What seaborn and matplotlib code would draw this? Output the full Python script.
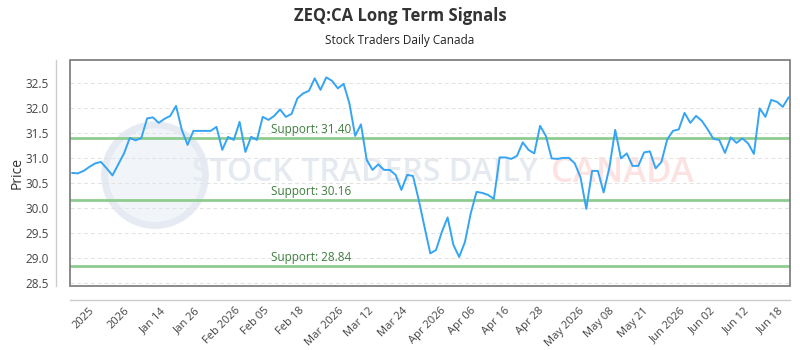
import numpy as np
import pandas as pd
import matplotlib
matplotlib.use("Agg")
import matplotlib.pyplot as plt
import seaborn as sns
from matplotlib.patches import Rectangle, Ellipse

# closing prices, one per trading session
prices = [
    30.71, 30.70, 30.75, 30.83, 30.90, 30.93, 30.80, 30.66, 30.88, 31.10,
    31.41, 31.36, 31.41, 31.80, 31.82, 31.71, 31.79, 31.85, 32.05, 31.57,
    31.27, 31.55, 31.55, 31.55, 31.55, 31.63, 31.17, 31.43, 31.37, 31.73,
    31.13, 31.43, 31.37, 31.83, 31.77, 31.85, 31.98, 31.83, 31.89, 32.20,
    32.30, 32.35, 32.60, 32.37, 32.62, 32.55, 32.40, 32.49, 32.10, 31.45,
    31.68, 30.97, 30.77, 30.88, 30.77, 30.77, 30.67, 30.37, 30.67, 30.65,
    30.17, 29.63, 29.10, 29.17, 29.53, 29.82, 29.27, 29.03, 29.33, 29.90,
    30.33, 30.31, 30.27, 30.19, 31.02, 31.02, 30.99, 31.05, 31.32, 31.17,
    31.10, 31.65, 31.45, 31.00, 30.99, 31.01, 31.01, 30.90, 30.62, 29.99,
    30.75, 30.75, 30.32, 30.82, 31.57, 31.00, 31.10, 30.85, 30.85, 31.12,
    31.14, 30.80, 30.93, 31.38, 31.55, 31.58, 31.91, 31.71, 31.85, 31.75,
    31.58, 31.39, 31.37, 31.11, 31.42, 31.31, 31.40, 31.30, 31.09, 32.00,
    31.83, 32.17, 32.13, 32.03, 32.22,
]
tick_labels = [
    "2025", "2026", "Jan 14", "Jan 26", "Feb 2026", "Feb 05", "Feb 18",
    "Mar 2026", "Mar 12", "Mar 24", "Apr 2026", "Apr 06", "Apr 16", "Apr 28",
    "May 2026", "May 08", "May 21", "Jun 2026", "Jun 02", "Jun 12", "Jun 18",
]
support_levels = [31.40, 30.16, 28.84]

df = pd.DataFrame({"session": np.arange(len(prices)), "price": prices})

sns.set_style("white")
plt.rcParams["font.family"] = ["Open Sans", "DejaVu Sans"]

fig = plt.figure(figsize=(8, 3.5), dpi=100)
ax = fig.add_axes([0.0875, 0.183, 0.9, 0.646])

# faint watermark behind the data
ax.add_patch(Ellipse((0.118, 0.49), 0.14, 0.445, transform=ax.transAxes,
                     facecolor="#f1f4f9", edgecolor="#e6ebf3", lw=5, zorder=0))
ax.text(0.41, 0.50, "STOCK TRADERS DAILY", transform=ax.transAxes, ha="center",
        va="center", fontsize=23, color="#e5e9f0", fontweight="semibold", zorder=0)
ax.text(0.767, 0.50, "CANADA", transform=ax.transAxes, ha="center", va="center",
        fontsize=25, color="#fde2e2", fontweight="semibold", zorder=0)

for level in support_levels:
    ax.axhline(level, color="#8fcc8f", lw=2, zorder=2)
    ax.annotate(f"Support: {level:.2f}", (34.4, level), xytext=(0, 2),
                textcoords="offset points", color="#3d7d3d", fontsize=8.5,
                va="bottom", ha="left", zorder=3)

sns.lineplot(data=df, x="session", y="price", ax=ax, color="#35a4f4", lw=1.4, zorder=4)

ax.set_xlim(-0.35, 124.25)
ax.set_ylim(28.45, 32.97)
yt = np.arange(28.5, 32.51, 0.5)
ax.set_yticks(yt)
ax.set_yticklabels([f"{v:.1f}" for v in yt])
ax.grid(axis="y", color="#e2e2e2", ls=(0, (4, 3)), lw=0.7)
ax.grid(axis="x", visible=False)

ax.set_xticks(np.linspace(2.1, 120.9, len(tick_labels)))
ax.set_xticklabels(tick_labels)
ax.tick_params(axis="x", length=0, pad=4, labelsize=8, labelcolor="#444444",
               labelrotation=45)
ax.tick_params(axis="y", length=0, pad=5, labelsize=8.5, labelcolor="#444444")
plt.setp(ax.get_xticklabels(), ha="right", rotation_mode="anchor")

for side in ["top", "right"]:
    ax.spines[side].set_visible(False)
for side in ["left", "bottom"]:
    ax.spines[side].set_position(("outward", 10))
    ax.spines[side].set_color("#cccccc")
    ax.spines[side].set_linewidth(1)
ax.add_patch(Rectangle((0, 0), 1, 1, transform=ax.transAxes, fill=False,
                       edgecolor="#777777", lw=1.2, zorder=5, clip_on=False))

ax.set_xlabel("")
ax.set_ylabel("Price", fontsize=10, color="#333333", labelpad=1)

fig.text(0.5, 0.955, "ZEQ:CA Long Term Signals", ha="center", va="center",
         fontsize=12, fontweight="bold", color="#333333")
fig.text(0.5, 0.885, "Stock Traders Daily Canada", ha="center", va="center",
         fontsize=8.5, color="#222222")

fig.savefig("out.png", dpi=100)
